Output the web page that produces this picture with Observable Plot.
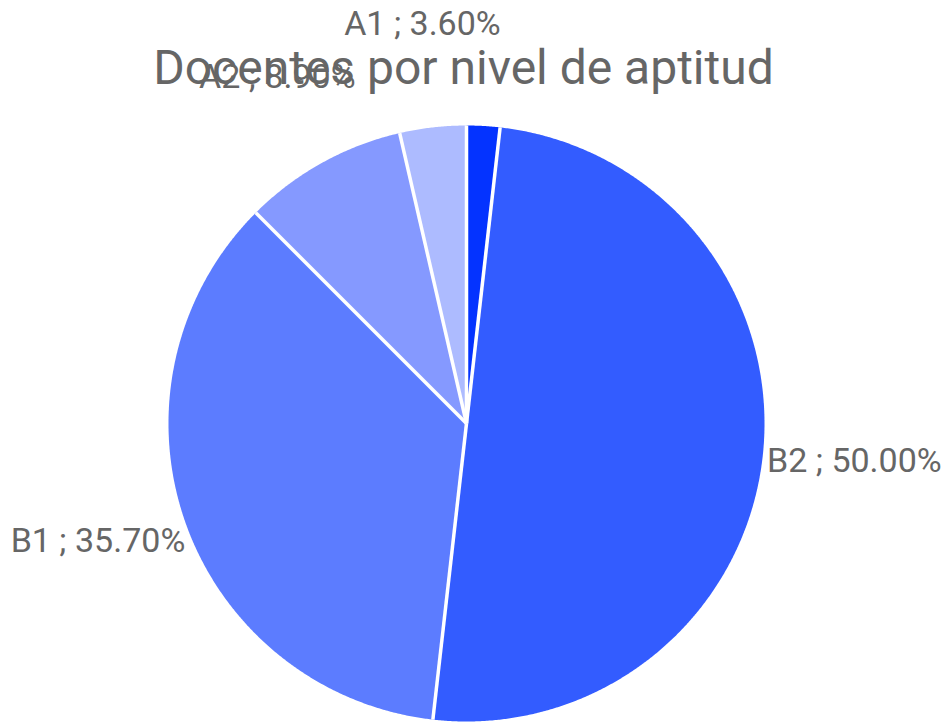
<!DOCTYPE html>
<html><head><meta charset="utf-8">
<script src="https://cdn.jsdelivr.net/npm/d3@7"></script>
<script src="https://cdn.jsdelivr.net/npm/@observablehq/plot@0.6"></script>
<style>body{margin:0;background:#fff;} svg{display:block;}</style>
</head><body><div id="chart"></div>
<script>
// ---- data ----
const categories = ["C1", "B2", "B1", "A2", "A1"];
const values = [1.8, 50.0, 35.7, 8.9, 3.6];
const labels = ["", "B2 ; 50.00%", "B1 ; 35.70%", "A2 ; 8.90%", "A1 ; 3.60%"];
const colors = ["#0433ff", "#335cff", "#5c7cff", "#8599ff", "#adbbff"];
const title = "Docentes por nivel de aptitud";

// ---- layout ----
const W = 946, H = 722, cx = 466, cy = 423, R = 298;
const FONT = "Roboto, 'Noto Sans', sans-serif";

const pie = d3.pie().sort(null).value(d => d.value);
const arcs = pie(categories.map((c, i) => ({category: c, value: values[i], label: labels[i]})));

// slice outlines in unit coordinates (radius = 1), derived from pie angles
const outline = [];
arcs.forEach(a => {
  const n = Math.max(2, Math.ceil((a.endAngle - a.startAngle) / 0.005));
  outline.push({category: a.data.category, x: 0, y: 0});
  for (let k = 0; k <= n; k++) {
    const t = a.startAngle + (a.endAngle - a.startAngle) * k / n;
    outline.push({category: a.data.category, x: Math.sin(t), y: Math.cos(t)});
  }
  outline.push({category: a.data.category, x: 0, y: 0});
});
const seps = arcs.map(a => ({x1: 0, y1: 0, x2: Math.sin(a.startAngle), y2: Math.cos(a.startAngle)}));
// outside labels at each slice's mid angle
const labelData = arcs.filter(a => a.data.label).map(a => {
  const m = (a.startAngle + a.endAngle) / 2;
  const ux = Math.sin(m), uy = Math.cos(m);
  const kx = 1.31, ky = 1 + 0.35 * Math.sqrt(Math.abs(uy));
  return {x: kx * ux, y: ky * uy, text: a.data.label};
});

const chart = Plot.plot({
  width: W, height: H, margin: 0,
  x: {domain: [-cx / R, (W - cx) / R], axis: null},
  y: {domain: [-(H - cy) / R, cy / R], axis: null},
  color: {type: "ordinal", domain: categories, range: colors},
  style: {fontFamily: FONT, background: "#fff"},
  marks: [
    Plot.line(outline, {x: "x", y: "y", z: "category", fill: "category", stroke: null, curve: "linear-closed"}),
    Plot.link(seps, {x1: "x1", y1: "y1", x2: "x2", y2: "y2", stroke: "#fff", strokeWidth: 3.5}),
    Plot.text([title], {frameAnchor: "top", lineAnchor: "top", dx: -10, dy: 49, text: d => d, fontSize: 48, fill: "#666", fontFamily: FONT}),
    Plot.text(labelData, {x: "x", y: "y", text: "text", fontSize: 34, fill: "#666", fontFamily: FONT})
  ]
});
document.getElementById("chart").appendChild(chart);
</script>
</body></html>
